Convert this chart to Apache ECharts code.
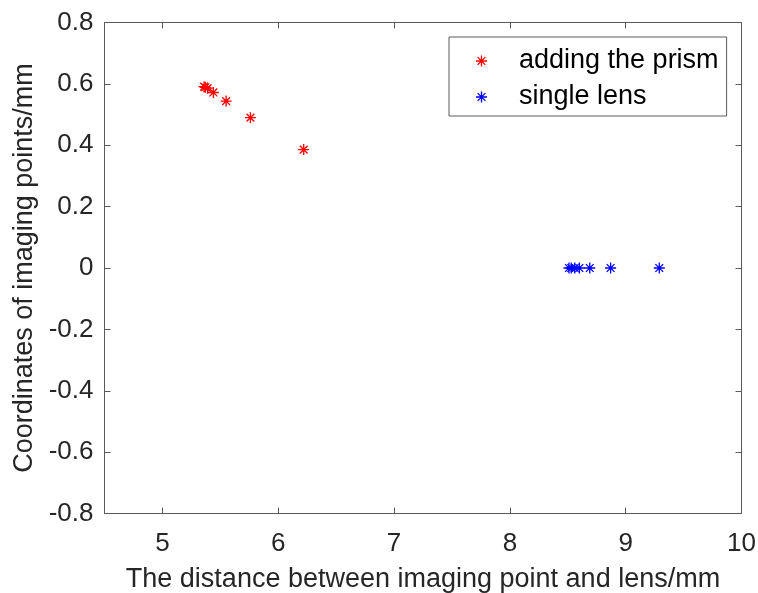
<!DOCTYPE html>
<html>
<head>
<meta charset="utf-8">
<script src="https://cdn.jsdelivr.net/npm/echarts@6/dist/echarts.min.js"></script>
<style>
  html, body { margin: 0; padding: 0; background: #ffffff; }
  #chart { width: 758px; height: 593px; }
</style>
</head>
<body>
<div id="chart"></div>
<script>
// Image-point positions: distance from lens (mm) vs. transverse coordinate (mm)
const prismX = [5.36, 5.37, 5.39, 5.44, 5.55, 5.76, 6.22];
const prismY = [0.591, 0.589, 0.586, 0.572, 0.544, 0.490, 0.386];
const lensX = [8.51, 8.53, 8.56, 8.60, 8.69, 8.87, 9.29];
const lensY = [0, 0, 0, 0, 0, 0, 0];

const seriesNames = ['adding the prism', 'single lens'];
const xTicks = [5, 6, 7, 8, 9, 10];
const yTicks = [-0.8, -0.6, -0.4, -0.2, 0, 0.2, 0.4, 0.6, 0.8];
const xRange = [4.5, 10];
const yRange = [-0.8, 0.8];

// Eight-spoke asterisk marker, all sub-paths wound the same way
const asterisk = 'path://' +
  'M0 4.4L10 4.4L10 5.6L0 5.6Z' +
  'M4.4 0L5.6 0L5.6 10L4.4 10Z' +
  'M1.9 1.05L8.95 8.1L8.1 8.95L1.05 1.9Z' +
  'M8.1 1.05L8.95 1.9L1.9 8.95L1.05 8.1Z';

const FONT = '"Liberation Sans", Arial, Helvetica, sans-serif';
const INK = '#262626';
const AXIS = '#5a5a5a';

function zip(xs, ys) { return xs.map((x, i) => [x, ys[i]]); }
function yFmt(v) { return Math.abs(v) < 1e-9 ? '0' : v.toFixed(1); }

const baseAxisLine = { show: true, onZero: false, lineStyle: { color: AXIS, width: 1 } };

const option = {
  backgroundColor: '#ffffff',
  animation: false,
  grid: { left: 104.5, right: 16.5, top: 22.5, bottom: 79.5, containLabel: false, outerBoundsMode: 'none' },
  legend: {
    orient: 'vertical',
    left: 449,
    top: 37,
    data: seriesNames,
    icon: asterisk,
    itemWidth: 11,
    itemHeight: 11,
    itemGap: 6,
    padding: [9, 8, 4, 27],
    borderColor: AXIS,
    borderWidth: 1,
    backgroundColor: '#ffffff',
    textStyle: { fontFamily: FONT, fontSize: 27, color: '#000000', lineHeight: 30, padding: [0, 0, 0, 27] }
  },
  xAxis: [
    {
      type: 'value', min: xRange[0], max: xRange[1], position: 'bottom',
      name: 'The distance between imaging point and lens/mm',
      nameLocation: 'middle', nameGap: 53,
      nameTextStyle: { fontFamily: FONT, fontSize: 27, color: INK },
      axisLine: baseAxisLine,
      axisTick: { show: true, inside: true, length: 6, customValues: xTicks, lineStyle: { color: AXIS } },
      axisLabel: { show: true, customValues: xTicks, margin: 17, fontFamily: FONT, fontSize: 26, color: INK },
      splitLine: { show: false }
    },
    {
      type: 'value', min: xRange[0], max: xRange[1], position: 'top',
      axisLine: baseAxisLine,
      axisTick: { show: true, inside: true, length: 6, customValues: xTicks, lineStyle: { color: AXIS } },
      axisLabel: { show: false },
      splitLine: { show: false }
    }
  ],
  yAxis: [
    {
      type: 'value', min: yRange[0], max: yRange[1], position: 'left',
      name: 'Coordinates of imaging points/mm',
      nameLocation: 'middle', nameGap: 58, nameRotate: 90,
      nameTextStyle: { fontFamily: FONT, fontSize: 27, color: INK },
      axisLine: baseAxisLine,
      axisTick: { show: true, inside: true, length: 6, customValues: yTicks, lineStyle: { color: AXIS } },
      axisLabel: { show: true, customValues: yTicks, margin: 11, formatter: yFmt, fontFamily: FONT, fontSize: 26, color: INK },
      splitLine: { show: false }
    },
    {
      type: 'value', min: yRange[0], max: yRange[1], position: 'right',
      axisLine: baseAxisLine,
      axisTick: { show: true, inside: true, length: 6, customValues: yTicks, lineStyle: { color: AXIS } },
      axisLabel: { show: false },
      splitLine: { show: false }
    }
  ],
  series: [
    {
      name: seriesNames[0], type: 'scatter', xAxisIndex: 0, yAxisIndex: 0,
      symbol: asterisk, symbolSize: 11,
      itemStyle: { color: '#ff0000', opacity: 1 },
      data: zip(prismX, prismY)
    },
    {
      name: seriesNames[1], type: 'scatter', xAxisIndex: 0, yAxisIndex: 0,
      symbol: asterisk, symbolSize: 11,
      itemStyle: { color: '#0000ff', opacity: 1 },
      data: zip(lensX, lensY)
    }
  ]
};

const chart = echarts.init(document.getElementById('chart'), null, { renderer: 'canvas' });
chart.setOption(option);
</script>
</body>
</html>
